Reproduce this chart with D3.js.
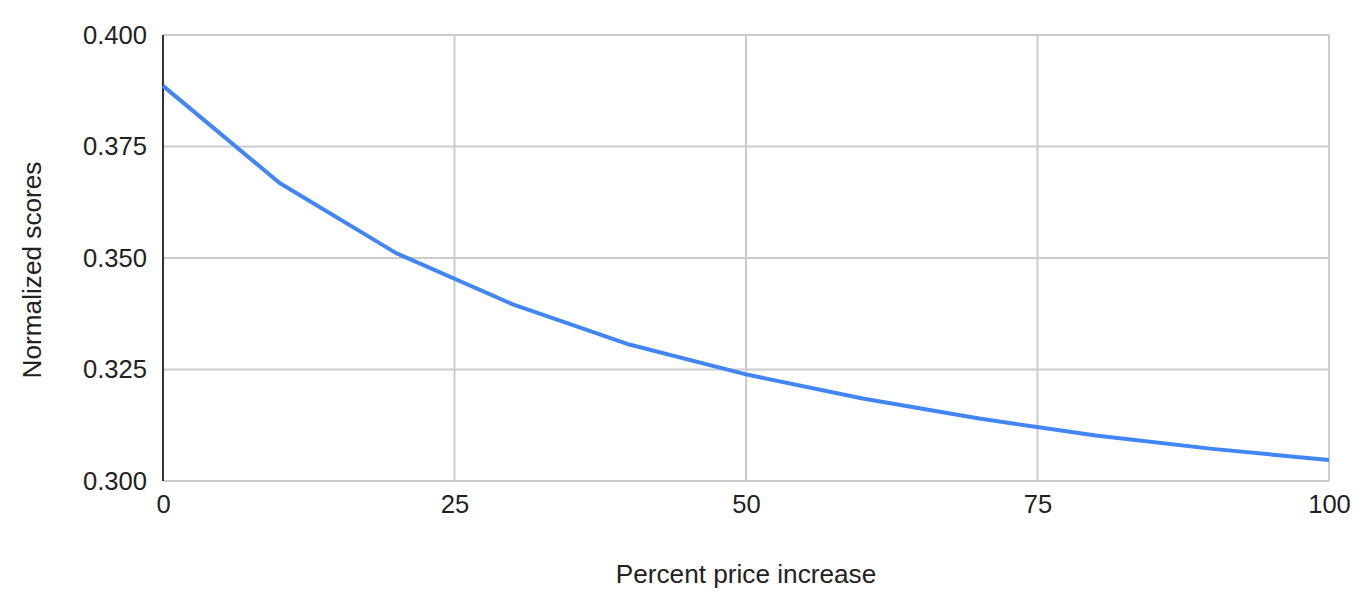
<!DOCTYPE html>
<html>
<head>
<meta charset="utf-8">
<script src="https://cdn.jsdelivr.net/npm/d3@7"></script>
<style>
  body { margin: 0; background: #fff; }
  text { font-family: "Liberation Sans", Arial, sans-serif; fill: #222; }
</style>
</head>
<body>
<div id="chart"></div>
<script>
// Percent price increase (x) and normalized scores (y)
var priceIncrease = [0, 10, 20, 30, 40, 50, 60, 70, 80, 90, 100];
var scores = [0.3886, 0.3668, 0.3511, 0.3396, 0.3306, 0.3239, 0.3185, 0.3140, 0.3102, 0.3072, 0.3047];
var xTicks = [0, 25, 50, 75, 100];
var yTicks = [0.300, 0.325, 0.350, 0.375, 0.400];

var width = 1360,
    height = 610;
var margin = { top: 35, right: 31, bottom: 129, left: 163 };

var svg = d3.select('#chart').append('svg')
    .attr('width', width)
    .attr('height', height);

var x = d3.scaleLinear()
    .domain([0, 100])
    .range([margin.left, width - margin.right]);

var y = d3.scaleLinear()
    .domain([0.300, 0.400])
    .range([height - margin.bottom, margin.top]);

// Grid lines
svg.append('g')
    .selectAll('line')
    .data(yTicks)
    .enter().append('line')
    .attr('x1', margin.left)
    .attr('x2', width - margin.right)
    .attr('y1', function(d) { return y(d); })
    .attr('y2', function(d) { return y(d); })
    .attr('stroke', '#cccccc')
    .attr('stroke-width', 2);

svg.append('g')
    .selectAll('line')
    .data(xTicks.filter(function(d) { return d > 0; }))
    .enter().append('line')
    .attr('x1', function(d) { return x(d); })
    .attr('x2', function(d) { return x(d); })
    .attr('y1', margin.top)
    .attr('y2', height - margin.bottom)
    .attr('stroke', '#cccccc')
    .attr('stroke-width', 2);

// Left axis line
svg.append('line')
    .attr('x1', x(0))
    .attr('x2', x(0))
    .attr('y1', margin.top)
    .attr('y2', height - margin.bottom)
    .attr('stroke', '#333333')
    .attr('stroke-width', 2);

// Y axis labels
var yAxis = d3.axisLeft(y)
    .tickValues(yTicks)
    .tickFormat(d3.format('.3f'))
    .tickSize(0)
    .tickPadding(16);

var yg = svg.append('g')
    .attr('transform', 'translate(' + margin.left + ',0)')
    .call(yAxis);
yg.select('.domain').remove();
yg.selectAll('text')
    .style('font-size', '25.6px')
    .attr('fill', '#222');

// X axis labels
var xAxis = d3.axisBottom(x)
    .tickValues(xTicks)
    .tickSize(0)
    .tickPadding(14);

var xg = svg.append('g')
    .attr('transform', 'translate(0,' + (height - margin.bottom) + ')')
    .call(xAxis);
xg.select('.domain').remove();
xg.selectAll('text')
    .style('font-size', '25.6px')
    .attr('fill', '#222');

// Line
var line = d3.line()
    .x(function(d, i) { return x(priceIncrease[i]); })
    .y(function(d) { return y(d); });

svg.append('path')
    .datum(scores)
    .attr('d', line)
    .attr('fill', 'none')
    .attr('stroke', '#4285f4')
    .attr('stroke-width', 4)
    .attr('stroke-linejoin', 'round');

// Axis titles
svg.append('text')
    .attr('x', (margin.left + width - margin.right) / 2)
    .attr('y', 583)
    .attr('text-anchor', 'middle')
    .style('font-size', '26.2px')
    .text('Percent price increase');

svg.append('text')
    .attr('transform', 'translate(41,270) rotate(-90)')
    .attr('text-anchor', 'middle')
    .style('font-size', '26.2px')
    .text('Normalized scores');
</script>
</body>
</html>
